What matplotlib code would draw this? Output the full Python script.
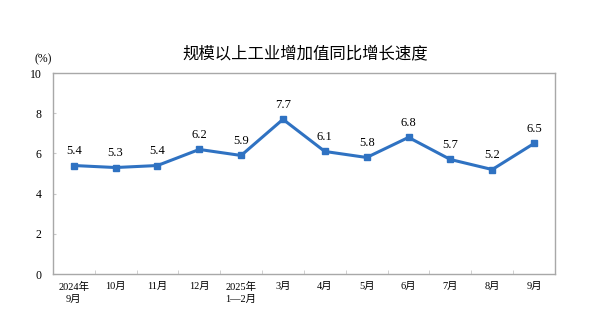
import matplotlib
matplotlib.use('Agg')
import matplotlib.pyplot as plt
import numpy as np

months = ['2024年\n9月', '10月', '11月', '12月', '2025年\n1—2月', '3月',
          '4月', '5月', '6月', '7月', '8月', '9月']
growth = [5.4, 5.3, 5.4, 6.2, 5.9, 7.7, 6.1, 5.8, 6.8, 5.7, 5.2, 6.5]
y_ticks = [0, 2, 4, 6, 8, 10]

serif = ['Liberation Serif', 'Noto Sans CJK SC']
line_color = '#2F72C2'

fig = plt.figure(figsize=(6, 3.22), dpi=100)
ax = fig.add_axes([0.088, 0.149, 0.837, 0.624])

x = np.arange(len(months))
ax.plot(x, growth, color=line_color, linewidth=2.2, marker='s',
        markersize=4.5, markerfacecolor=line_color, markeredgecolor=line_color)

for xi, v in zip(x, growth):
    ax.annotate(f'{v:.1f}', (xi, v), xytext=(0, 6), textcoords='offset points',
                ha='center', va='bottom', fontsize=9, family=serif)

ax.set_xlim(-0.5, len(months) - 0.5)
ax.set_ylim(0, 10)
ax.set_yticks(y_ticks)
ax.set_yticklabels([str(t) for t in y_ticks], family=serif, fontsize=8.5)

# category labels at the centres, tick marks on the boundaries
ax.set_xticks(x)
ax.set_xticklabels(months, family=serif, fontsize=7.5, linespacing=1.4, va='top')
ax.tick_params(axis='x', which='major', length=0, pad=6)
ax.set_xticks(np.arange(0.5, len(months) - 0.5), minor=True)
ax.tick_params(axis='x', which='minor', direction='in', length=3, color='#c8c8c8')
ax.tick_params(axis='y', direction='in', length=2, color='#c8c8c8', pad=8)

for s in ax.spines.values():
    s.set_color('#a8a8a8')
    s.set_linewidth(1.0)

fig.text(0.508, 0.833, '规模以上工业增加值同比增长速度', ha='center', va='center',
         fontsize=11.8, fontweight='medium', family=['Noto Sans CJK SC', 'DejaVu Sans'])
fig.text(0.072, 0.815, '(%)', ha='center', va='center', fontsize=8.5, family=serif)

fig.savefig('out.png', dpi=100)
